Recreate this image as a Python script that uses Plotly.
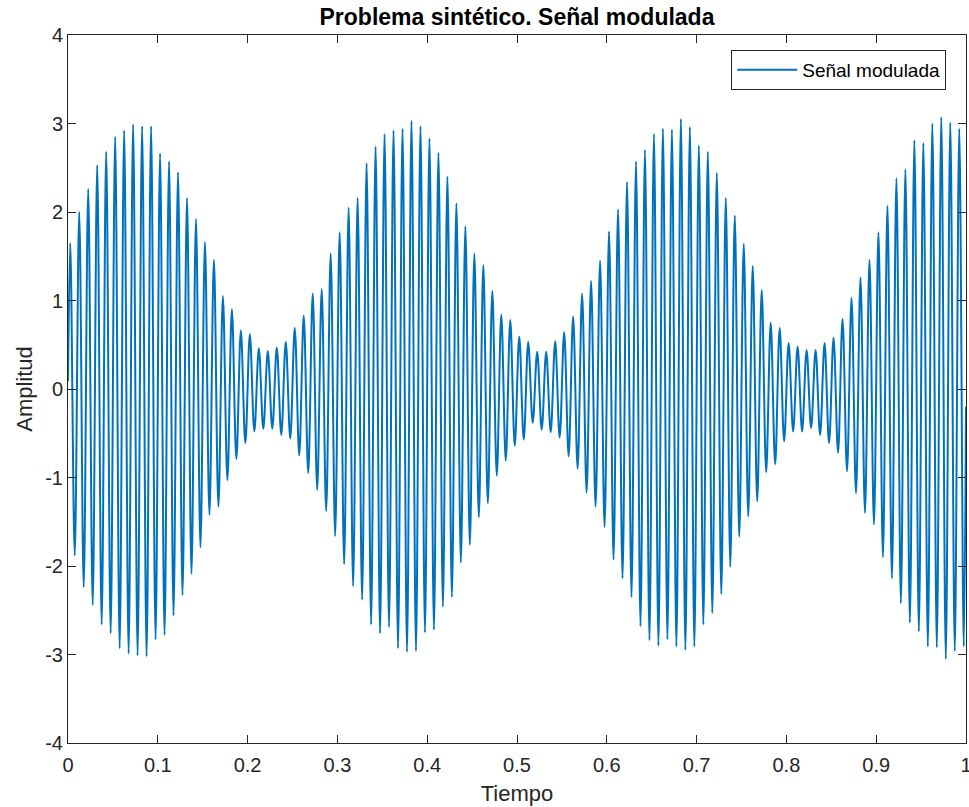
import plotly.graph_objects as go

# Values
# Upper peaks of each carrier cycle (one per cycle, ~100 Hz carrier)
picos = [1.65, 2.00, 2.26, 2.53, 2.68, 2.85, 2.92, 2.99, 2.97, 2.97,
         2.66, 2.57, 2.45, 2.16, 1.92, 1.66, 1.46, 1.05, 0.90, 0.66,
         0.62, 0.46, 0.43, 0.47, 0.53, 0.69, 0.83, 1.08, 1.13, 1.53,
         1.77, 2.05, 2.16, 2.55, 2.74, 2.88, 2.92, 2.94, 3.03, 2.97,
         2.83, 2.67, 2.40, 2.10, 1.84, 1.53, 1.40, 1.11, 0.84, 0.78,
         0.59, 0.53, 0.42, 0.42, 0.54, 0.64, 0.82, 1.08, 1.22, 1.45,
         1.78, 2.03, 2.34, 2.57, 2.70, 2.88, 2.94, 2.93, 3.05, 2.96,
         2.75, 2.68, 2.44, 2.16, 1.96, 1.64, 1.39, 1.12, 0.75, 0.69,
         0.52, 0.48, 0.44, 0.44, 0.52, 0.58, 0.79, 1.03, 1.26, 1.46,
         1.77, 2.07, 2.38, 2.48, 2.81, 2.78, 3.00, 3.07, 3.01, 2.94]
# Lower troughs of each carrier cycle
valles = [-1.88, -2.24, -2.44, -2.66, -2.76, -2.93, -2.99, -3.01, -3.02, -2.83,
          -2.78, -2.56, -2.33, -2.09, -1.79, -1.42, -1.33, -1.03, -0.79, -0.61,
          -0.48, -0.45, -0.45, -0.52, -0.56, -0.75, -0.95, -1.14, -1.38, -1.66,
          -1.98, -2.23, -2.38, -2.66, -2.76, -2.69, -2.93, -2.97, -2.96, -2.75,
          -2.72, -2.46, -2.35, -1.96, -1.76, -1.45, -1.29, -0.98, -0.81, -0.64,
          -0.57, -0.38, -0.46, -0.49, -0.55, -0.76, -0.90, -1.17, -1.33, -1.56,
          -1.93, -2.14, -2.35, -2.68, -2.84, -2.90, -2.83, -2.91, -2.95, -2.91,
          -2.66, -2.53, -2.32, -2.01, -1.67, -1.44, -1.27, -0.94, -0.85, -0.59,
          -0.48, -0.48, -0.44, -0.52, -0.61, -0.72, -0.93, -1.18, -1.40, -1.53,
          -1.90, -2.14, -2.42, -2.64, -2.74, -2.91, -2.92, -3.05, -2.96, -2.91]
valor_inicial = 0.09
valor_final = -0.2
periodo = 0.01           # carrier period
t_inicio, t_fin = 0.0, 1.0

x_tick_vals = [0, 0.1, 0.2, 0.3, 0.4, 0.5, 0.6, 0.7, 0.8, 0.9, 1]
x_tick_text = ["0", "0.1", "0.2", "0.3", "0.4", "0.5", "0.6", "0.7", "0.8", "0.9", "1"]
y_tick_vals = [-4, -3, -2, -1, 0, 1, 2, 3, 4]
y_tick_text = ["-4", "-3", "-2", "-1", "0", "1", "2", "3", "4"]

t = [t_inicio]
y = [valor_inicial]
for k, (p, v) in enumerate(zip(picos, valles)):
    t.append(t_inicio + periodo * (k + 0.25))
    y.append(p)
    t.append(t_inicio + periodo * (k + 0.75))
    y.append(v)
t.append(t_fin)
y.append(valor_final)

FONT = "Liberation Sans, Arial, Helvetica, sans-serif"
AX = "#262626"

fig = go.Figure()
fig.add_trace(go.Scatter(
    x=t, y=y, mode="lines", name="Señal modulada",
    line=dict(color="#0072BD", width=2, shape="spline", smoothing=1.0),
))

axis_common = dict(
    showline=True, linecolor=AX, linewidth=1, mirror="ticks",
    ticks="inside", ticklen=8, tickcolor=AX, tickwidth=1,
    showgrid=False, zeroline=False, automargin=False,
    tickfont=dict(family=FONT, size=20, color=AX),
    ticklabeloverflow="allow",
)

fig.update_layout(
    width=969, height=807,
    margin=dict(l=68, r=3, t=35, b=64, autoexpand=False),
    paper_bgcolor="white", plot_bgcolor="white",
    title=dict(text="<b>Problema sintético. Señal modulada</b>",
               font=dict(family=FONT, size=23, color="black"),
               x=(68 + 966) / 2 / 969, xanchor="center",
               y=1 - 17 / 807, yanchor="middle", yref="container"),
    xaxis=dict(range=[0, 1], tickvals=x_tick_vals, ticktext=x_tick_text,
               ticklabelstandoff=4,
               title=dict(text="Tiempo", font=dict(family=FONT, size=22, color=AX), standoff=10),
               **axis_common),
    yaxis=dict(range=[-4, 4], tickvals=y_tick_vals, ticktext=y_tick_text,
               title=dict(text="Amplitud", font=dict(family=FONT, size=22, color=AX), standoff=6),
               **axis_common),
    legend=dict(x=0.978, xanchor="right", y=0.979, yanchor="top",
                bgcolor="white", bordercolor=AX, borderwidth=1,
                itemwidth=60,
                font=dict(family=FONT, size=19, color="black")),
    showlegend=True,
)

fig.write_html("out.html")
